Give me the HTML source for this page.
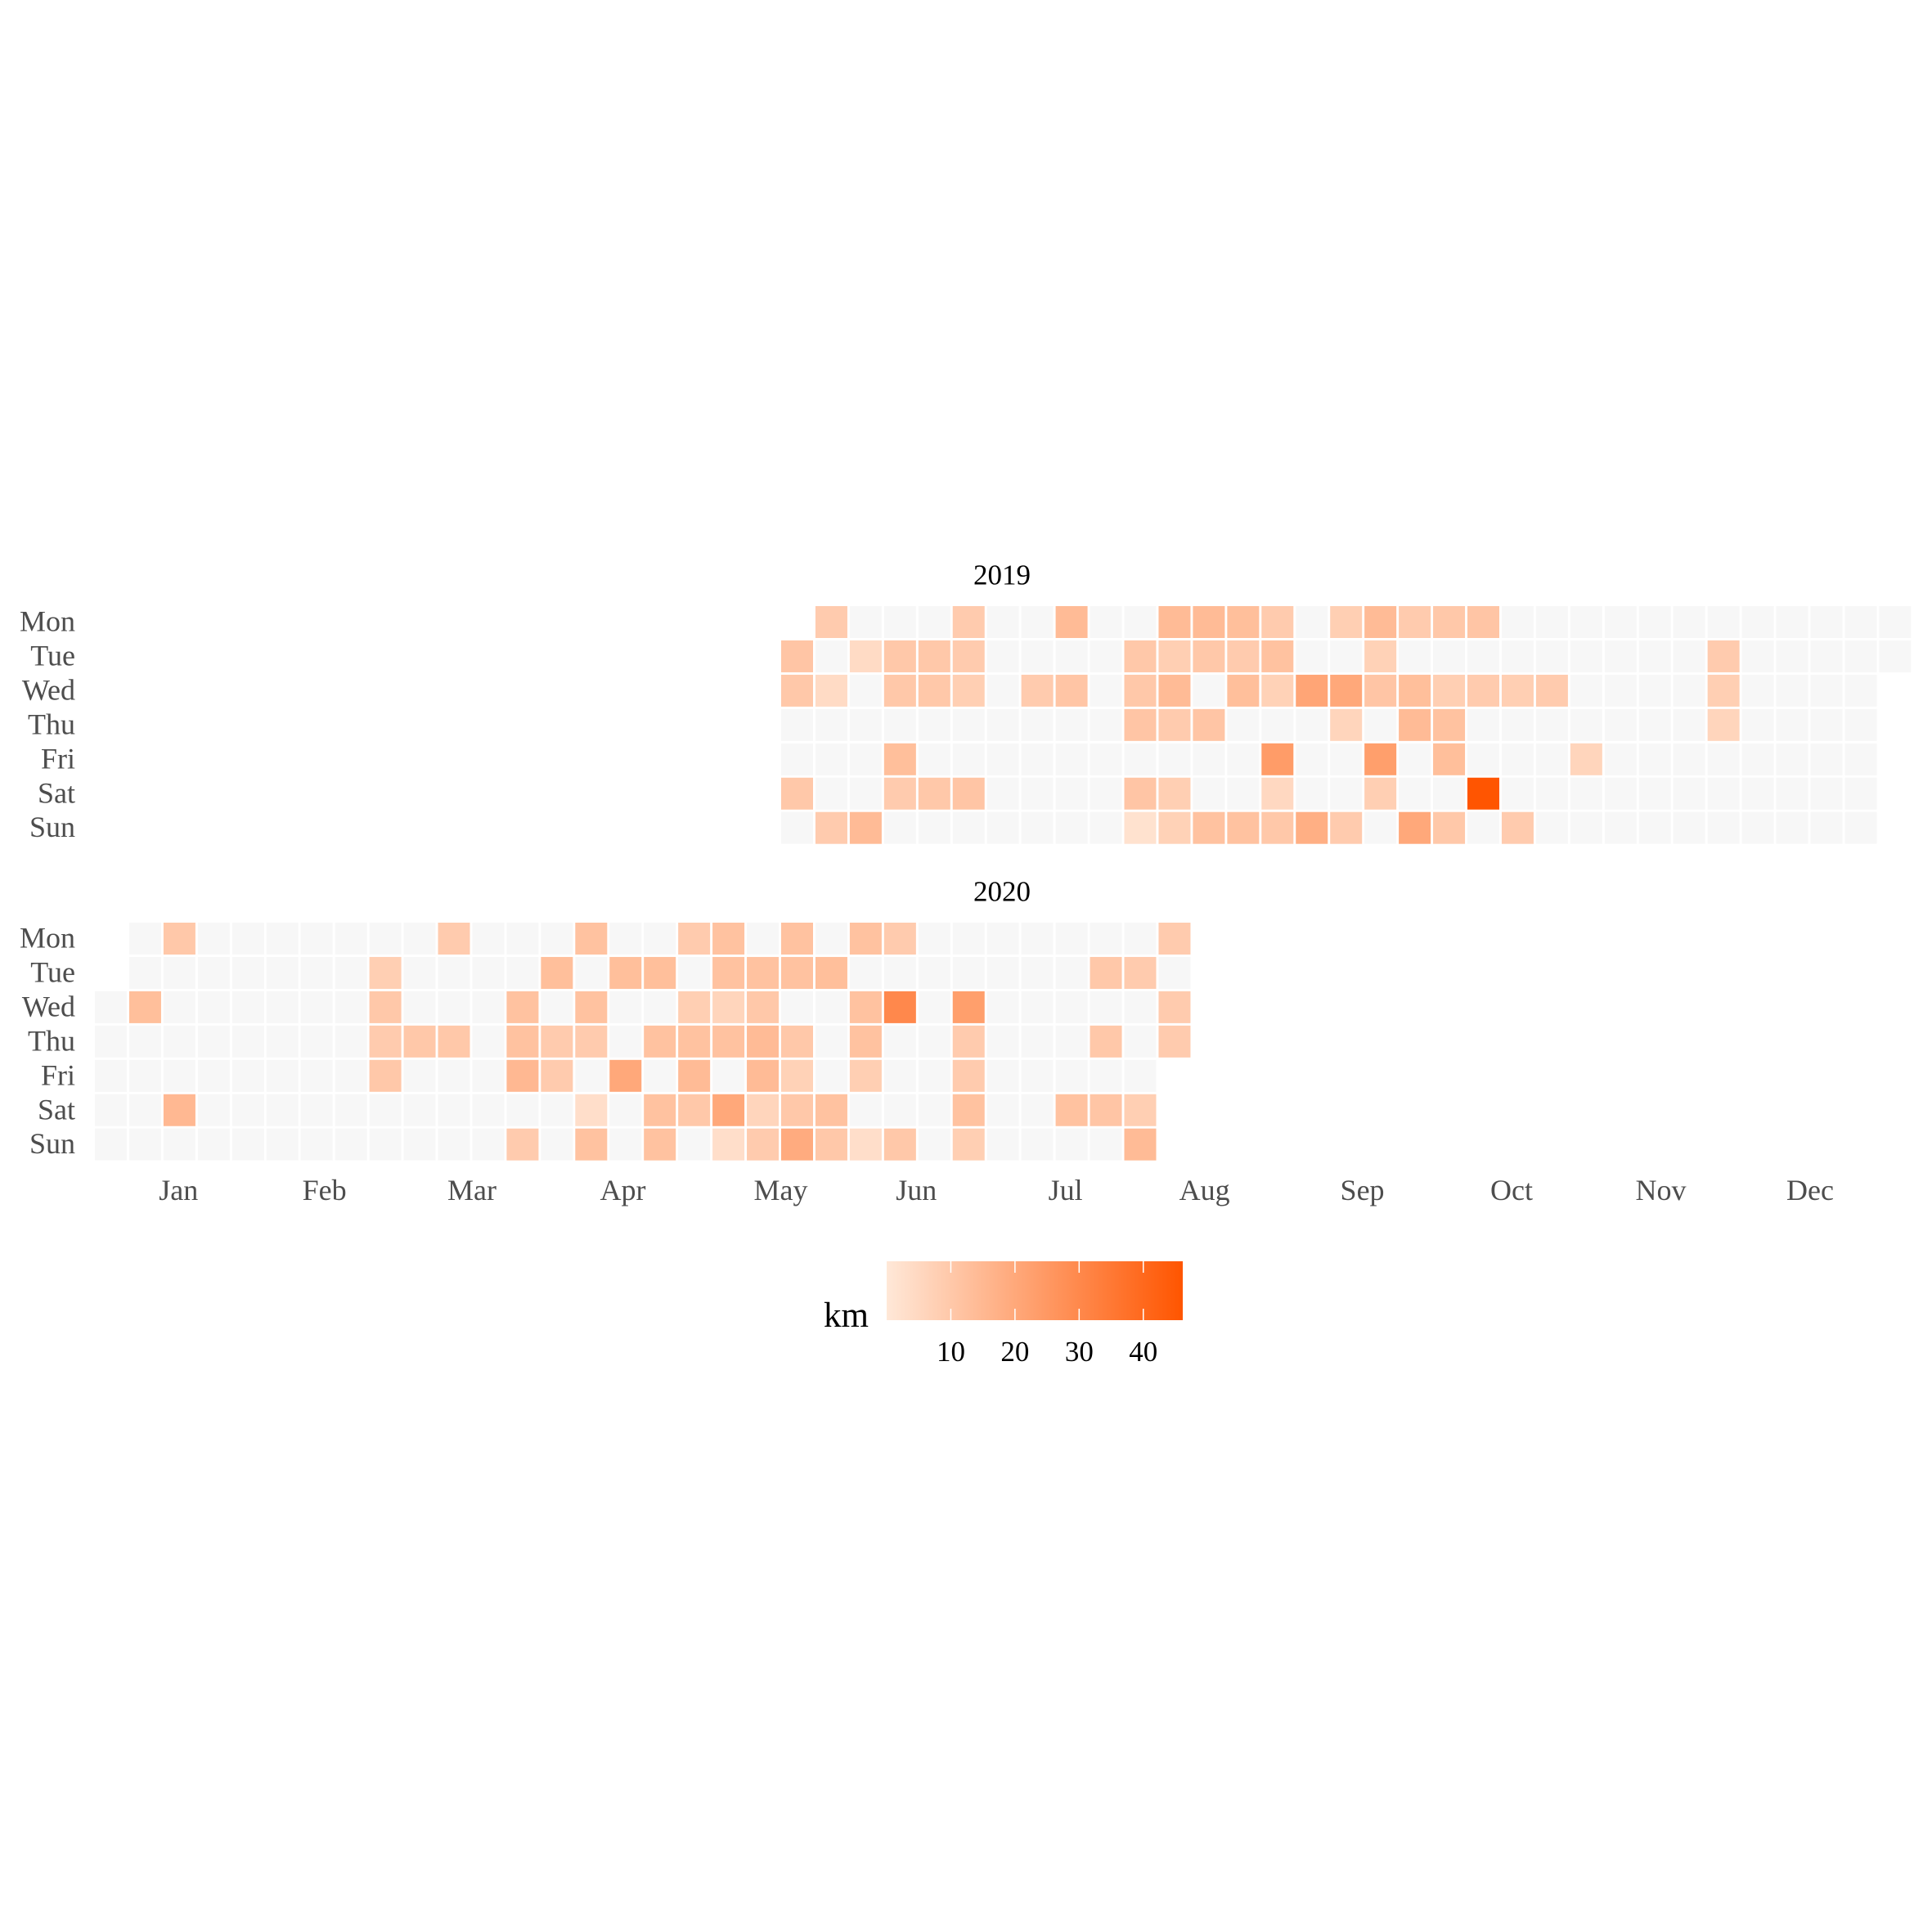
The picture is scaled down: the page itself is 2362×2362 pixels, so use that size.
<!DOCTYPE html>
<html><head><meta charset="utf-8"><style>
html,body{margin:0;padding:0;background:#fff;}
svg{display:block;font-family:"Liberation Serif",serif;}
</style></head><body>
<svg id="chart" width="2362" height="2362" viewBox="0 0 2362 2362" xmlns="http://www.w3.org/2000/svg">
<defs><linearGradient id="lg" x1="0" x2="1" y1="0" y2="0"><stop offset="0" stop-color="#ffe8d8"/><stop offset="1" stop-color="#ff5500"/></linearGradient></defs>
<g id="panels"></g>
<g id="months"></g>
<g id="legend"></g>
</svg>
<script>
const weekdays = ["Mon","Tue","Wed","Thu","Fri","Sat","Sun"];
const months = ["Jan","Feb","Mar","Apr","May","Jun","Jul","Aug","Sep","Oct","Nov","Dec"];
const monthWeek = [2.45,6.7,11.0,15.4,20.0,23.95,28.3,32.35,36.95,41.3,45.65,50.0];
const legendTicks = [10,20,30,40];
const years = ["2019","2020"];
const startCol2019 = 20;
const startCol2020 = 0;
const km2019 = [
[null,9,0,0,0,9,0,0,14,0,0,14,14,13,9,0,8,14,9,10,11,0,0,0,0,0,0,0,0,0,0,0,0],
[11,0,4,10,10,9,0,0,0,0,10,8,10,9,12,0,0,7,0,0,0,0,0,0,0,0,0,9,0,0,0,0,0],
[10,4,0,10,10,8,0,9,11,0,10,14,0,13,7,21,20,11,13,8,9,8,9,0,0,0,0,8,0,0,0,0,null],
[0,0,0,0,0,0,0,0,0,0,11,9,11,0,0,0,6,0,14,12,0,0,0,0,0,0,0,6,0,0,0,0,null],
[0,0,0,13,0,0,0,0,0,0,0,0,0,0,24,0,0,23,0,13,0,0,0,6,0,0,0,0,0,0,0,0,null],
[10,0,0,9,10,11,0,0,0,0,11,8,0,0,5,0,0,8,0,0,46,0,0,0,0,0,0,0,0,0,0,0,null],
[0,9,14,0,0,0,0,0,0,0,2,7,12,12,10,18,9,0,20,10,0,9,0,0,0,0,0,0,0,0,0,0,null]];
const km2020 = [
[null,0,10,0,0,0,0,0,0,0,9,0,0,0,12,0,0,9,12,0,12,0,12,9,0,0,0,0,0,0,0,9],
[null,0,0,0,0,0,0,0,8,0,0,0,0,13,0,13,13,0,12,12,12,13,0,0,0,0,0,0,0,10,9,0],
[0,13,0,0,0,0,0,0,10,0,0,0,12,0,12,0,0,8,6,10,0,0,12,30,0,23,0,0,0,0,0,9],
[0,0,0,0,0,0,0,0,9,10,10,0,12,9,9,0,12,12,12,14,10,0,12,0,0,9,0,0,0,10,0,9],
[0,0,0,0,0,0,0,0,10,0,0,0,15,9,0,20,0,14,0,14,7,0,8,0,0,9,0,0,0,0,0,null],
[0,0,15,0,0,0,0,0,0,0,0,0,0,0,3,0,12,10,20,6,10,12,0,0,0,12,0,0,12,11,8,null],
[0,0,0,0,0,0,0,0,0,0,0,0,9,0,12,0,12,0,3,9,19,10,3,10,0,8,0,0,0,0,14,null]];

const NS="http://www.w3.org/2000/svg";
const X0=114.5, PITCH=41.95, CELL=39;
const panelTop=[739.5,1126.5];
const vmax=46.15;
function xCol(c){return X0+c*PITCH;}
function yRow(p,r){return panelTop[p]+r*PITCH;}
function color(v){
  if(!v) return "#f7f7f7";
  const t=Math.min(1,v/vmax);
  const r=255,g=Math.round(232+(85-232)*t),b=Math.round(216+(0-216)*t);
  return "rgb("+r+","+g+","+b+")";
}
function mk(tag,attrs,parent){const e=document.createElementNS(NS,tag);for(const k in attrs)e.setAttribute(k,attrs[k]);parent.appendChild(e);return e;}
const panels=document.getElementById("panels");
const datas=[km2019,km2020], starts=[startCol2019,startCol2020];
years.forEach((yr,p)=>{
  const g=mk("g",{},panels);
  
  
  const t=mk("text",{x:1225,y:panelTop[p]-25,"text-anchor":"middle","font-size":35,fill:"#000"},g);
  t.textContent=yr;
  
  
  weekdays.forEach((d,r)=>{
    const l=mk("text",{x:92,y:yRow(p,r)+32,"text-anchor":"end","font-size":36,fill:"#4d4d4d"},g);
    l.textContent=d;
    
    
    datas[p][r].forEach((v,i)=>{
      if(v===null) return;
      const rc=mk("rect",{x:xCol(starts[p]+i)+1.5,y:yRow(p,r)+1.5,width:CELL,height:CELL,fill:color(v)},g);
      
      
    });
  });
});
const mg=document.getElementById("months");
months.forEach((m,i)=>{
  const t=mk("text",{x:xCol(monthWeek[i])+1,y:1467,"text-anchor":"middle","font-size":36,fill:"#4d4d4d"},mg);
  t.textContent=m;
  
  
});
const lg=document.getElementById("legend");
const LX=1084, LW=362, LY=1542, LH=72;
function xLeg(v){return LX+v/vmax*LW;}
const bar=mk("rect",{x:LX,y:LY,width:LW,height:LH,fill:"url(#lg)"},lg);


const kt=mk("text",{x:1062,y:1622,"text-anchor":"end","font-size":43,fill:"#000"},lg);
kt.textContent="km";


legendTicks.forEach(v=>{
  const x=xLeg(v);
  mk("line",{x1:x,x2:x,y1:LY,y2:LY+14,stroke:"#fff","stroke-width":1.5},lg);
  mk("line",{x1:x,x2:x,y1:LY+LH-14,y2:LY+LH,stroke:"#fff","stroke-width":1.5},lg);
  const t=mk("text",{x:x,y:1664,"text-anchor":"middle","font-size":35,fill:"#000"},lg);
  t.textContent=v;
  
  
});
</script>
</body></html>
